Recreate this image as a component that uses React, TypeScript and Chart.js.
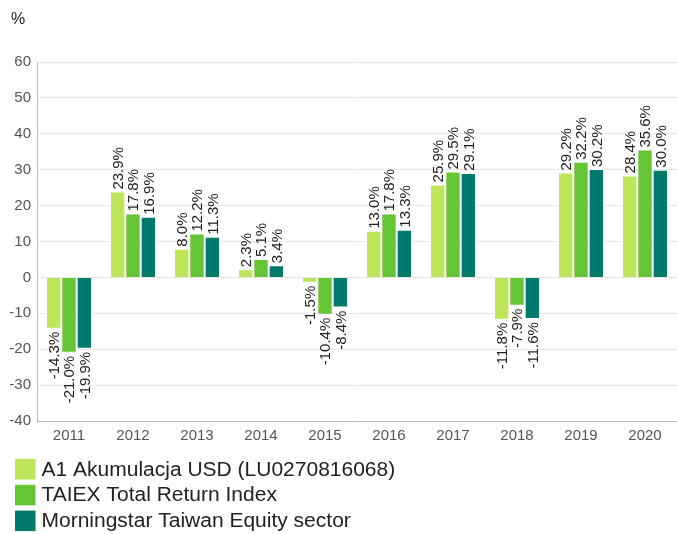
import React, { useEffect, useRef } from "react";
import { Chart, registerables } from "chart.js";

Chart.register(...registerables);

const categories = ["2011", "2012", "2013", "2014", "2015", "2016", "2017", "2018", "2019", "2020"];
const fundValues = [-14.3, 23.9, 8.0, 2.3, -1.5, 13.0, 25.9, -11.8, 29.2, 28.4];
const indexValues = [-21.0, 17.8, 12.2, 5.1, -10.4, 17.8, 29.5, -7.9, 32.2, 35.6];
const sectorValues = [-19.9, 16.9, 11.3, 3.4, -8.4, 13.3, 29.1, -11.6, 30.2, 30.0];
const seriesNames = [
  "A1 Akumulacja USD (LU0270816068)",
  "TAIEX Total Return Index",
  "Morningstar Taiwan Equity sector",
];
const seriesColors = ["#BDE65B", "#66C534", "#007A6A"];
const yTicks = [-40, -30, -20, -10, 0, 10, 20, 30, 40, 50, 60];

const FONT = '"Liberation Sans", Arial, sans-serif';

const labelPlugin = {
  id: "barLabels",
  afterDatasetsDraw(chart: any) {
    const ctx = chart.ctx;
    ctx.save();
    ctx.font = `15px ${FONT}`;
    ctx.fillStyle = "#1E1E1E";
    ctx.textBaseline = "middle";
    chart.data.datasets.forEach((ds: any, di: number) => {
      const meta = chart.getDatasetMeta(di);
      meta.data.forEach((el: any, i: number) => {
        const v = ds.data[i] as number;
        const text = v.toFixed(1) + "%";
        ctx.save();
        if (v >= 0) {
          ctx.translate(el.x, el.y - 2);
          ctx.rotate(-Math.PI / 2);
          ctx.textAlign = "left";
        } else {
          ctx.translate(el.x, el.y + 3);
          ctx.rotate(-Math.PI / 2);
          ctx.textAlign = "right";
        }
        ctx.fillText(text, 0, 1);
        ctx.restore();
      });
    });
    ctx.restore();
  },
};

const extrasPlugin = {
  id: "extras",
  afterDraw(chart: any) {
    const ctx = chart.ctx;
    ctx.save();
    ctx.fillStyle = "#222222";
    ctx.font = `16px ${FONT}`;
    ctx.textAlign = "left";
    ctx.textBaseline = "alphabetic";
    ctx.fillText("%", 11, 24);
    // legend
    const top = chart.chartArea.bottom + 38;
    ctx.font = `20px ${FONT}`;
    ctx.textBaseline = "middle";
    chart.data.datasets.forEach((ds: any, i: number) => {
      const y = top + i * 25.8;
      ctx.fillStyle = ds.backgroundColor;
      ctx.fillRect(15, y, 20.5, 20.5);
      ctx.fillStyle = "#222222";
      ctx.save();
      ctx.translate(41.5, y + 11);
      ctx.scale(1.05, 1);
      ctx.fillText(ds.label, 0, 0);
      ctx.restore();
    });
    ctx.restore();
  },
};

export default function App() {
  const ref = useRef<HTMLCanvasElement | null>(null);
  useEffect(() => {
    if (!ref.current) return;
    const values = [fundValues, indexValues, sectorValues];
    const chart = new Chart(ref.current, {
      type: "bar",
      data: {
        labels: categories,
        datasets: values.map((d, i) => ({
          label: seriesNames[i],
          data: d,
          backgroundColor: seriesColors[i],
          borderColor: "rgba(255,255,255,0.9)",
          borderWidth: 1,
          barPercentage: 1,
          categoryPercentage: 0.72,
        })),
      },
      options: {
        animation: false,
        responsive: true,
        maintainAspectRatio: false,
        layout: { padding: { top: 62, left: 0, right: 0, bottom: 83 } },
        plugins: {
          legend: { display: false },
          tooltip: { enabled: false },
          title: { display: false },
        },
        scales: {
          x: {
            grid: { display: false, drawTicks: false },
            border: { display: true, color: "#BBBBBB", width: 1 },
            ticks: {
              color: "#555555",
              font: { family: FONT, size: 15 },
              padding: 6,
              maxRotation: 0,
            },
            afterFit(scale: any) {
              scale.height = 30;
            },
          },
          y: {
            min: -40,
            max: 60,
            afterBuildTicks(scale: any) {
              scale.ticks = yTicks.map((v) => ({ value: v }));
            },
            grid: { color: "#E8E8E8", lineWidth: 1, drawTicks: false },
            border: { display: true, color: "#BBBBBB", width: 1 },
            ticks: {
              color: "#555555",
              font: { family: FONT, size: 15 },
              padding: 6,
            },
            afterFit(scale: any) {
              scale.width = 37;
            },
          },
        },
      },
      plugins: [labelPlugin, extrasPlugin],
    });
    return () => chart.destroy();
  }, []);
  return (
    <div style={{ position: "fixed", left: 0, top: 0, width: 677, height: 534, background: "#fff" }}>
      <canvas ref={ref} />
    </div>
  );
}
